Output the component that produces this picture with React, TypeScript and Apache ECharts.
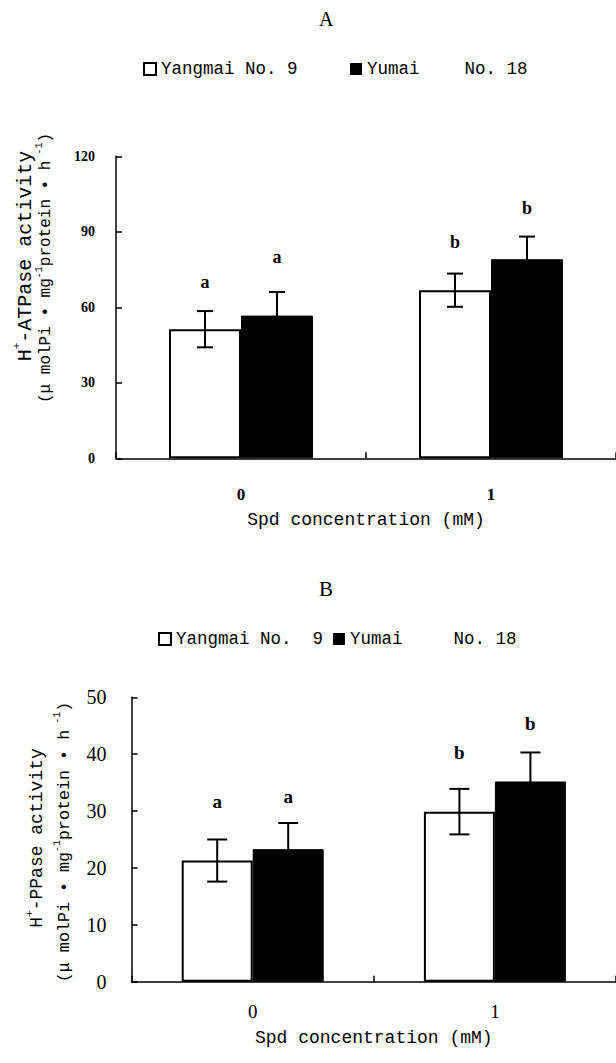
import React, { useEffect, useRef } from "react";
import * as echarts from "echarts";

// ---- data ----
const categories = ["0", "1"];
const seriesNames = ["Yangmai No. 9", "Yumai No. 18"];

// Panel A: H+-ATPase activity
const atpYangmai = [51.3, 66.8];
const atpYangmaiSd = [7.2, 6.6];
const atpYumai = [56.7, 79.1];
const atpYumaiSd = [9.4, 9.0];
const atpYangmaiLetters = ["a", "b"];
const atpYumaiLetters = ["a", "b"];
const atpYangmaiLetterY = [70.2, 86.1];
const atpYumaiLetterY = [80.1, 99.5];
const atpTicks = { min: 0, max: 120, interval: 30 };

// Panel B: H+-PPase activity
const ppYangmai = [21.3, 29.9];
const ppYangmaiSd = [3.7, 4.0];
const ppYumai = [23.3, 35.2];
const ppYumaiSd = [4.6, 5.1];
const ppYangmaiLetters = ["a", "b"];
const ppYumaiLetters = ["a", "b"];
const ppYangmaiLetterY = [31.7, 40.3];
const ppYumaiLetterY = [32.5, 45.4];
const ppTicks = { min: 0, max: 50, interval: 10 };

const MONO = "Liberation Mono";
const SERIF = "Liberation Serif";

function errSeries(
  axisIndex: number,
  means: number[],
  sds: number[],
  letterY: number[],
  letters: string[],
  offset: number,
  cap: number,
  fontSize: number
) {
  return {
    type: "custom",
    xAxisIndex: axisIndex,
    yAxisIndex: axisIndex,
    z: 10,
    silent: true,
    encode: { x: 0, y: 1 },
    data: means.map((m, i) => [i, m, sds[i], letterY[i]]),
    renderItem: (params: any, api: any) => {
      const ci = api.value(0);
      const m = api.value(1);
      const s = api.value(2);
      const ly = api.value(3);
      const pTop = api.coord([ci, m + s]);
      const pBot = api.coord([ci, m - s]);
      const pL = api.coord([ci, ly]);
      const x = pTop[0] + offset;
      const ls = { stroke: "#000", lineWidth: 2 };
      return {
        type: "group",
        children: [
          { type: "line", shape: { x1: x, y1: pTop[1], x2: x, y2: pBot[1] }, style: ls },
          { type: "line", shape: { x1: x - cap, y1: pTop[1], x2: x + cap, y2: pTop[1] }, style: ls },
          { type: "line", shape: { x1: x - cap, y1: pBot[1], x2: x + cap, y2: pBot[1] }, style: ls },
          {
            type: "text",
            x: x,
            y: pL[1],
            style: {
              text: letters[params.dataIndex],
              fontFamily: SERIF,
              fontWeight: "bold",
              fontSize: fontSize,
              fill: "#000",
              align: "center",
              verticalAlign: "middle",
            },
          },
        ],
      };
    },
  };
}

function legendItem(name: string, left: number, top: number, text: string, white: boolean, gap?: number) {
  return {
    data: [
      {
        name,
        itemStyle: white
          ? { color: "#fff", borderColor: "#000", borderWidth: 2 }
          : { color: "#000", borderWidth: 0 },
      },
    ],
    left,
    top,
    padding: 0,
    icon: "rect",
    itemWidth: 12,
    itemHeight: 12,
    selectedMode: false,
    formatter: () => text,
    textStyle: {
      fontFamily: MONO,
      fontSize: 17.5,
      color: "#000",
      rich: { g: { width: gap || 0 } },
    },
  };
}

function yNameText(x: number, y: number, l1: string, size: number, supSize: number) {
  return {
    type: "text",
    x,
    y,
    rotation: Math.PI / 2,
    style: {
      text: l1,
      fontFamily: MONO,
      fontSize: size,
      fill: "#000",
      align: "center",
      verticalAlign: "middle",
      textAlign: "center",
      textVerticalAlign: "middle",
      rich: {
        n: { fontFamily: MONO, fontSize: size, lineHeight: size * 1.2, verticalAlign: "bottom" },
        sup: { fontFamily: MONO, fontSize: supSize, lineHeight: size * 1.2, verticalAlign: "top" },
      },
    },
  };
}

export default function App() {
  const ref = useRef<HTMLDivElement>(null);
  useEffect(() => {
    if (!ref.current) return;
    const chart = echarts.init(ref.current, null, { renderer: "svg" });
    const axisLine = { show: true, lineStyle: { color: "#000", width: 1.5 } };
    const option: any = {
      animation: false,
      backgroundColor: "#fff",
      title: [
        { text: "A", left: 319, top: 9, padding: 0, textStyle: { fontFamily: SERIF, fontSize: 20, fontWeight: "normal", color: "#000" } },
        { text: "B", left: 319, top: 578, padding: 0, textStyle: { fontFamily: SERIF, fontSize: 21, fontWeight: "normal", color: "#000" } },
      ],
      legend: [
        legendItem(seriesNames[0], 143, 60, "Yangmai No. 9", true),
        legendItem(seriesNames[1], 350, 60, "Yumai{g|}No. 18", false, 45),
        legendItem(seriesNames[0], 158, 630, "Yangmai No.  9", true),
        legendItem(seriesNames[1], 333, 630, "Yumai{g|}No. 18", false, 51),
      ],
      grid: [
        { left: 116, top: 156.3, width: 506, height: 302 },
        { left: 131.6, top: 697.3, width: 491, height: 284.4 },
      ],
      xAxis: [
        {
          type: "category",
          gridIndex: 0,
          data: categories,
          axisLine,
          axisTick: { show: true, inside: true, length: 6, interval: 0, lineStyle: { color: "#000", width: 1.5 } },
          axisLabel: { margin: 28, fontFamily: SERIF, fontWeight: "bold", fontSize: 17, color: "#000" },
          name: "Spd concentration (mM)",
          nameLocation: "middle",
          nameGap: 53,
          nameTextStyle: { fontFamily: MONO, fontSize: 18, color: "#000" },
        },
        {
          type: "category",
          gridIndex: 1,
          data: categories,
          axisLine,
          axisTick: { show: true, inside: true, length: 6, interval: 0, lineStyle: { color: "#000", width: 1.5 } },
          axisLabel: { margin: 20, fontFamily: SERIF, fontSize: 19, color: "#000" },
          name: "Spd concentration (mM)",
          nameLocation: "middle",
          nameGap: 47,
          nameTextStyle: { fontFamily: MONO, fontSize: 18, color: "#000" },
        },
      ],
      yAxis: [
        {
          type: "value",
          gridIndex: 0,
          min: atpTicks.min,
          max: atpTicks.max,
          interval: atpTicks.interval,
          axisLine,
          axisTick: { show: true, inside: true, length: 6, lineStyle: { color: "#000", width: 1.5 } },
          splitLine: { show: false },
          axisLabel: { margin: 21, fontFamily: SERIF, fontWeight: "bold", fontSize: 14, color: "#000" },
        },
        {
          type: "value",
          gridIndex: 1,
          min: ppTicks.min,
          max: ppTicks.max,
          interval: ppTicks.interval,
          axisLine,
          axisTick: { show: true, inside: true, length: 6, lineStyle: { color: "#000", width: 1.5 } },
          splitLine: { show: false },
          axisLabel: { margin: 25, fontFamily: SERIF, fontSize: 20, color: "#000" },
        },
      ],
      series: [
        {
          name: seriesNames[0],
          type: "bar",
          xAxisIndex: 0,
          yAxisIndex: 0,
          data: atpYangmai,
          barWidth: 72,
          barGap: "0%",
          itemStyle: { color: "#fff", borderColor: "#000", borderWidth: 2 },
        },
        {
          name: seriesNames[1],
          type: "bar",
          xAxisIndex: 0,
          yAxisIndex: 0,
          data: atpYumai,
          barWidth: 72,
          barGap: "0%",
          itemStyle: { color: "#000", borderColor: "#000", borderWidth: 1 },
        },
        {
          name: seriesNames[0],
          type: "bar",
          xAxisIndex: 1,
          yAxisIndex: 1,
          data: ppYangmai,
          barWidth: 71,
          barGap: "0%",
          itemStyle: { color: "#fff", borderColor: "#000", borderWidth: 2 },
        },
        {
          name: seriesNames[1],
          type: "bar",
          xAxisIndex: 1,
          yAxisIndex: 1,
          data: ppYumai,
          barWidth: 71,
          barGap: "0%",
          itemStyle: { color: "#000", borderColor: "#000", borderWidth: 1 },
        },
        errSeries(0, atpYangmai, atpYangmaiSd, atpYangmaiLetterY, atpYangmaiLetters, -36, 8, 18),
        errSeries(0, atpYumai, atpYumaiSd, atpYumaiLetterY, atpYumaiLetters, 36, 8, 18),
        errSeries(1, ppYangmai, ppYangmaiSd, ppYangmaiLetterY, ppYangmaiLetters, -35.5, 10, 19),
        errSeries(1, ppYumai, ppYumaiSd, ppYumaiLetterY, ppYumaiLetters, 35.5, 10, 19),
      ],
      graphic: [
        yNameText(23, 256, "{n|H}{sup|+}{n|-ATPase activity}", 20, 11),
        yNameText(44, 268, "{n|(μ molPi • mg}{sup|-1}{n|protein • h}{sup| -1}{n|)}", 16, 10),
        yNameText(35, 838, "{n|H}{sup|+}{n|-PPase activity}", 18, 11),
        yNameText(63, 842, "{n|(μ molPi • mg}{sup|-1}{n|protein • h}{sup| -1}{n|)}", 16.7, 10),
      ],
    };
    chart.setOption(option);
    return () => chart.dispose();
  }, []);
  return (
    <div
      ref={ref}
      style={{ position: "absolute", left: 0, top: 0, width: 616, height: 1063, background: "#fff" }}
    />
  );
}
